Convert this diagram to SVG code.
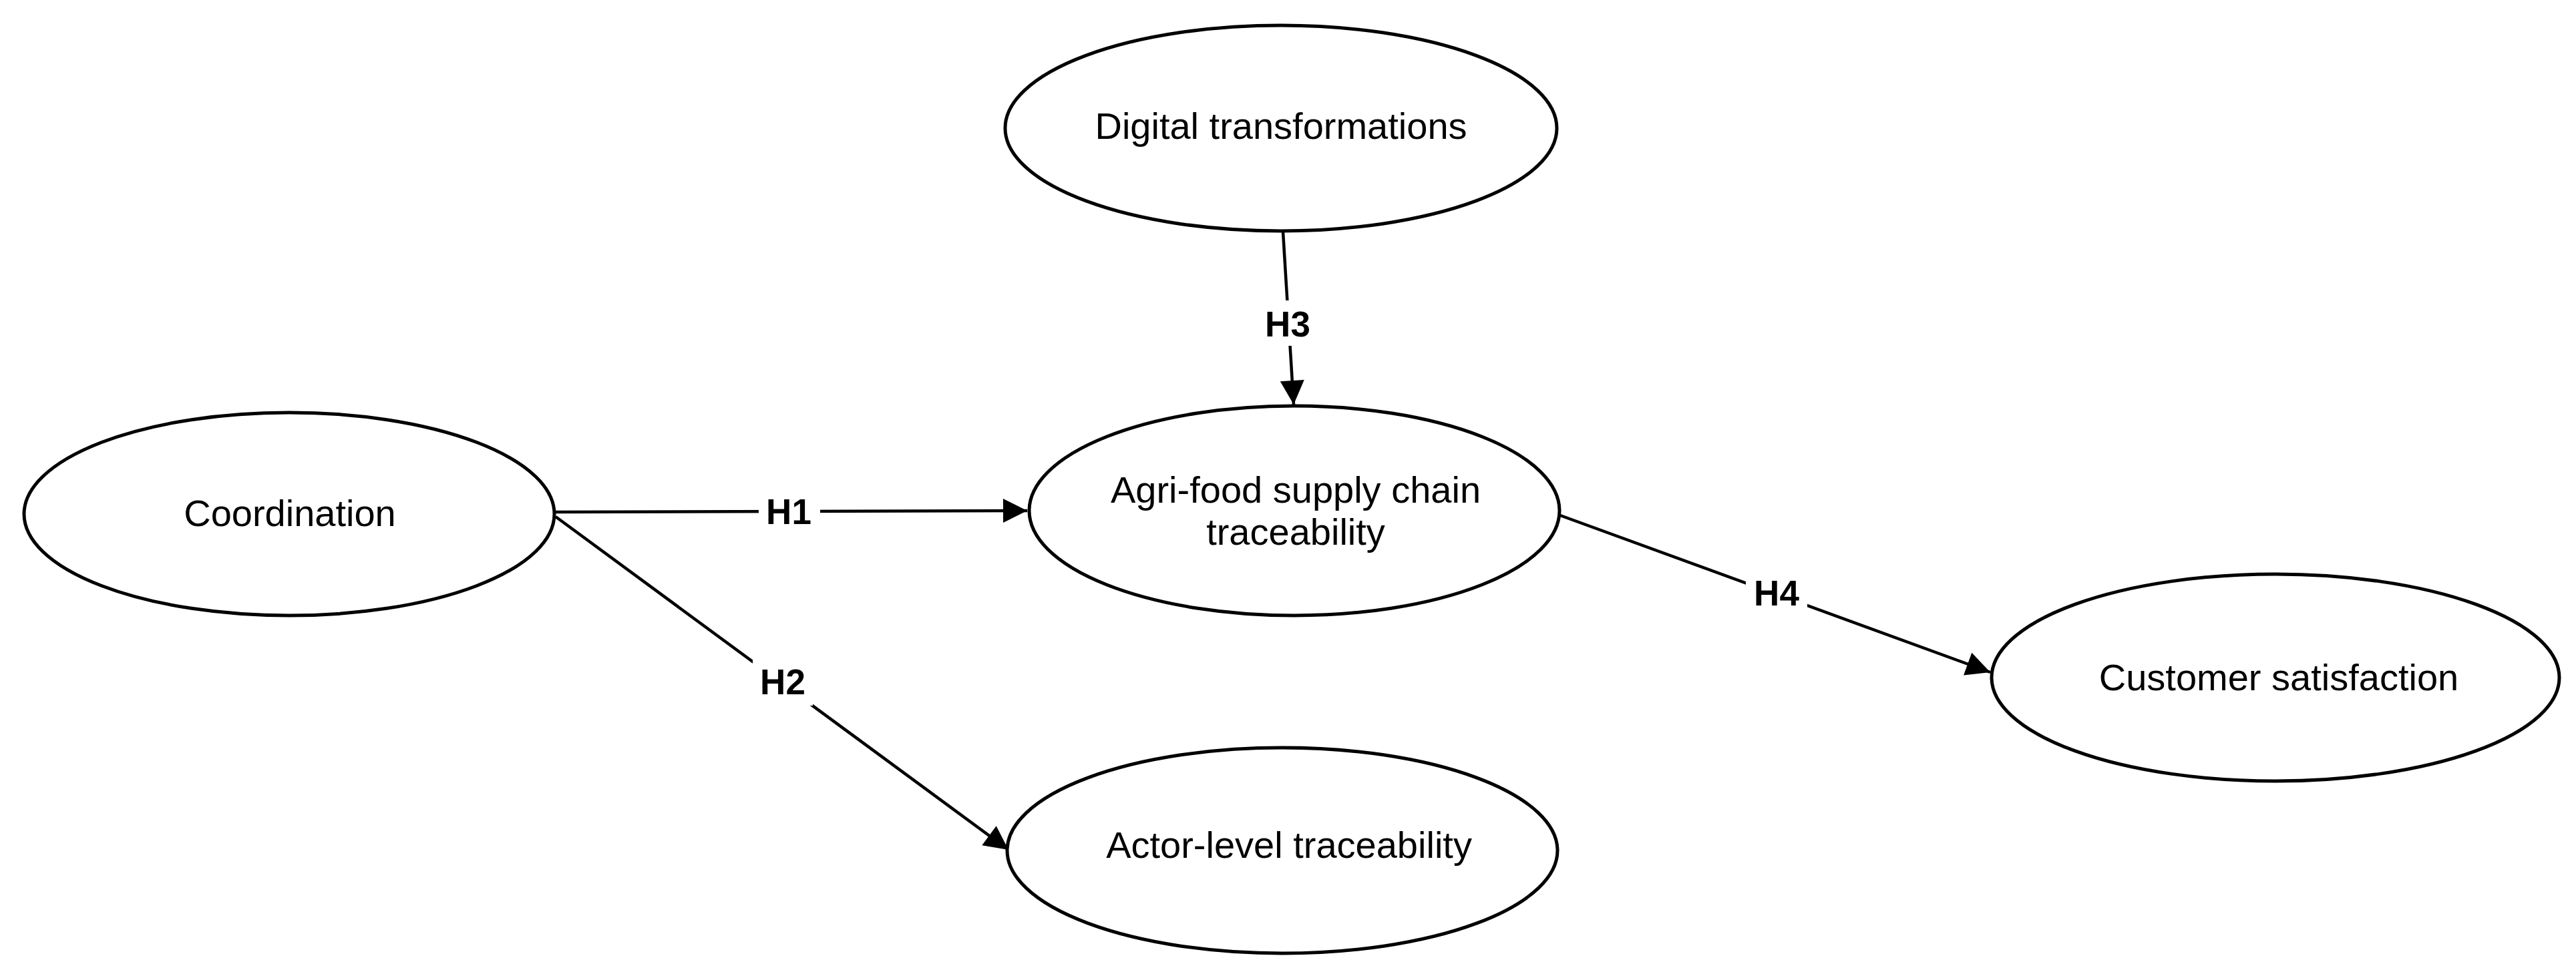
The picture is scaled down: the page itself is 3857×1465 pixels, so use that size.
<svg xmlns="http://www.w3.org/2000/svg" width="3857" height="1465" viewBox="0 0 3857 1465">
<style>
.node ellipse{fill:#fff;stroke:#000;stroke-width:5}
.node text{font-family:"Liberation Sans",Arial,sans-serif;font-size:56px;fill:#000;text-anchor:middle}
.edge line{stroke:#000;stroke-width:4.5;marker-end:url(#arrow)}
.lbl rect{fill:#fff}
.lbl text{font-family:"Liberation Sans",Arial,sans-serif;font-size:53px;font-weight:bold;fill:#000;text-anchor:middle}
</style>
<defs>
<marker id="arrow" markerUnits="userSpaceOnUse" markerWidth="40" markerHeight="40" viewBox="0 0 40 40" refX="38" refY="20" orient="auto">
<path d="M2,2 L38,20 L2,38 Z" fill="#000"/>
</marker>
</defs>
<rect width="3857" height="1465" fill="#fff"/>
<g id="connectors">
<g class="edge" id="e-h1"><line x1="832" y1="767" x2="1538" y2="765"/></g>
<g class="edge" id="e-h2"><line x1="832" y1="774" x2="1510" y2="1273"/></g>
<g class="edge" id="e-h3"><line x1="1921" y1="347" x2="1937" y2="606"/></g>
<g class="edge" id="e-h4"><line x1="2336" y1="772" x2="2980" y2="1007"/></g>
<g class="lbl"><rect x="1136" y="736" width="92" height="60"/><text x="1181" y="785">H1</text></g>
<g class="lbl"><rect x="1127" y="985" width="90" height="72"/><text x="1172" y="1040">H2</text></g>
<g class="lbl"><rect x="1888" y="450" width="80" height="68"/><text x="1928" y="504">H3</text></g>
<g class="lbl"><rect x="2614" y="856" width="92" height="64"/><text x="2660" y="907">H4</text></g>
</g>
<g class="node" id="n-digital"><ellipse cx="1918" cy="192" rx="413" ry="154"/><text x="1918" y="208">Digital transformations</text></g>
<g class="node" id="n-coordination"><ellipse cx="433" cy="770" rx="397" ry="152"/><text x="434" y="788">Coordination</text></g>
<g class="node" id="n-agri"><ellipse cx="1938" cy="765" rx="397" ry="157"/><text x="1940" y="753">Agri-food supply chain</text><text x="1940" y="816">traceability</text></g>
<g class="node" id="n-actor"><ellipse cx="1920" cy="1274" rx="412" ry="154"/><text x="1930" y="1285">Actor-level traceability</text></g>
<g class="node" id="n-customer"><ellipse cx="3407" cy="1015" rx="425" ry="155"/><text x="3412" y="1034">Customer satisfaction</text></g>
</svg>
